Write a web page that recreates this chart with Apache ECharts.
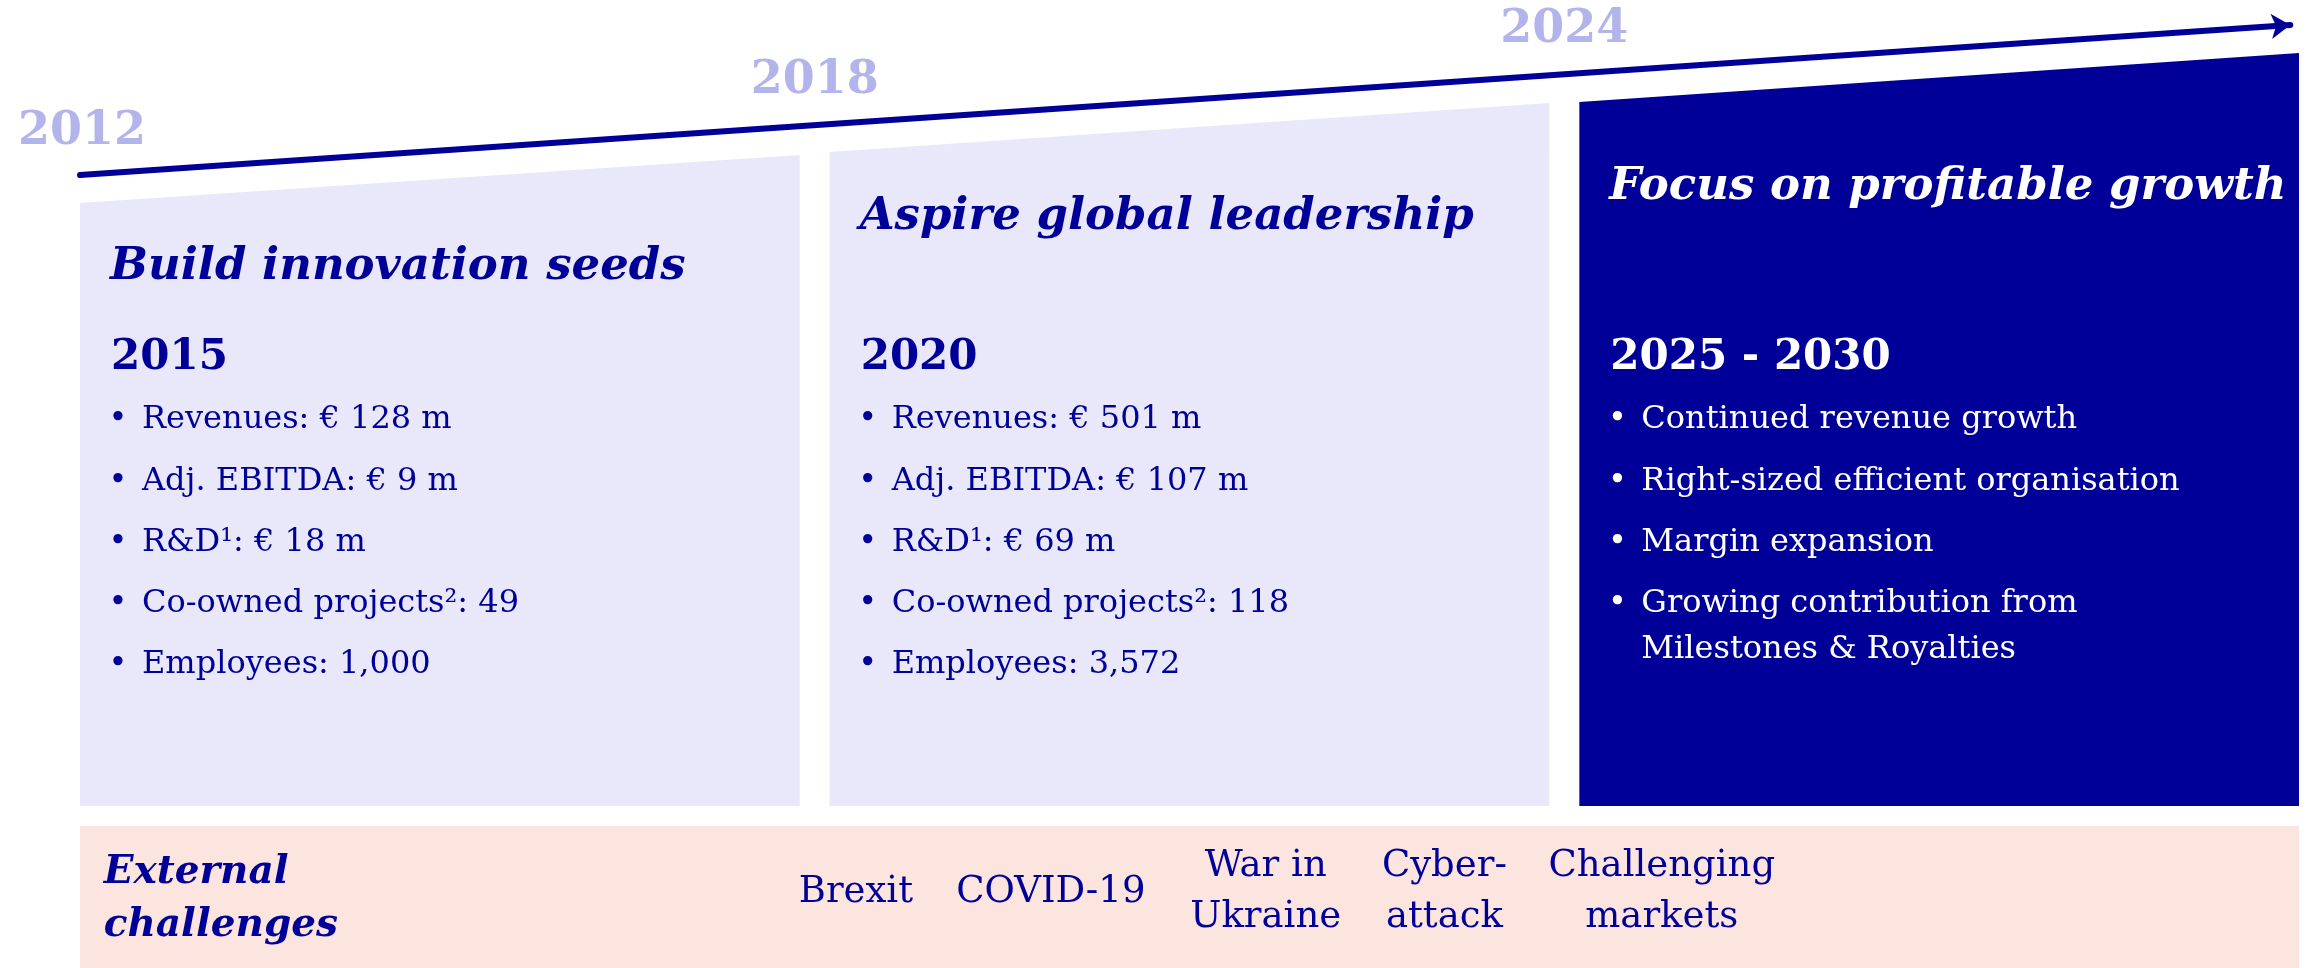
<!DOCTYPE html>
<html>
<head>
<meta charset="utf-8">
<script src="https://cdn.jsdelivr.net/npm/echarts@6/dist/echarts.min.js"></script>
<style>
  html, body { margin: 0; padding: 0; background: #fff; }
  #main { width: 2317px; height: 968px; }
</style>
</head>
<body>
<div id="main"></div>
<script>
// eras on the timeline (years)
const eraStart = [2012, 2018, 2024]
const eraEnd = [2018, 2024, 2030]
// height of each panel's sloped top edge, at its left and right side
const panelTopStart = [603, 654, 704]
const panelTopEnd = [651, 703, 753]

const titles = ['Build innovation seeds', 'Aspire global leadership', 'Focus on profitable growth']
const periods = ['2015', '2020', '2025 - 2030']
const bullets = [
  ['Revenues: € 128 m', 'Adj. EBITDA: € 9 m', 'R&D¹: € 18 m', 'Co-owned projects²: 49', 'Employees: 1,000'],
  ['Revenues: € 501 m', 'Adj. EBITDA: € 107 m', 'R&D¹: € 69 m', 'Co-owned projects²: 118', 'Employees: 3,572'],
  ['Continued revenue growth', 'Right-sized efficient organisation', 'Margin expansion', 'Growing contribution from\nMilestones & Royalties']
]

const milestoneYears = [2012, 2018, 2024]
const growthLine = [[2012.12, 631], [2029.81, 781]]

const challengesTitle = 'External\nchallenges'
const challenges = ['Brexit', 'COVID-19', 'War in\nUkraine', 'Cyber-\nattack', 'Challenging\nmarkets']
const challengeAt = [2018.33, 2019.89, 2021.61, 2023.04, 2024.78]

// layout / style
const NAVY = '#000099'
const LIGHT = '#e8e8fa'
const BAND = '#fce4df'
const YEAR_INK = '#b4b4ec'
const SERIF = '"DejaVu Serif", Georgia, serif'
const INSET = 0.12
const TITLE_Y = [539, 589, 619]
const PERIOD_Y = 448
const BULLET_Y = 386
const BULLET_STEP = 61.2
const WRAP_STEP = 46
const BAND_TOP = -20
const BAND_BOTTOM = -162

function txt(x, y, s, font, fill, align) {
  return {
    type: 'text',
    x, y,
    style: { text: s, font, fill, align: align || 'left', verticalAlign: 'middle' }
  }
}

function renderPanel(params, api) {
  const i = params.dataIndex
  const x0 = api.value(0) + INSET
  const x1 = api.value(1) - INSET
  const pts = [
    api.coord([x0, 0]),
    api.coord([x1, 0]),
    api.coord([x1, panelTopEnd[i]]),
    api.coord([x0, panelTopStart[i]])
  ]
  const dark = i === 2
  const ink = dark ? '#ffffff' : NAVY
  const left = pts[0][0]
  const yOf = v => api.coord([x0, v])[1]
  const children = [
    { type: 'polygon', shape: { points: pts }, style: { fill: dark ? NAVY : LIGHT } },
    txt(left + 30, yOf(TITLE_Y[i]), titles[i], `italic bold 45px ${SERIF}`, ink),
    txt(left + 31, yOf(PERIOD_Y), periods[i], `bold 42px ${SERIF}`, ink)
  ]
  let y = yOf(BULLET_Y)
  bullets[i].forEach(b => {
    children.push(txt(left + 38, y, '•', `32px ${SERIF}`, ink, 'center'))
    b.split('\n').forEach((line, k) => {
      children.push(txt(left + 62, y + k * WRAP_STEP, line, `32px ${SERIF}`, ink))
    })
    y += BULLET_STEP
  })
  return { type: 'group', children }
}

function renderBand(params, api) {
  const a = api.coord([eraStart[0] + INSET, BAND_TOP])
  const b = api.coord([eraEnd[2] - INSET, BAND_BOTTOM])
  return {
    type: 'rect',
    shape: { x: a[0], y: a[1], width: b[0] - a[0], height: b[1] - a[1] },
    style: { fill: BAND }
  }
}

// height of the growth arrow at a given year
function growthAt(t) {
  const [p, q] = growthLine
  return p[1] + (q[1] - p[1]) * (t - p[0]) / (q[0] - p[0])
}

const labelBase = {
  show: true,
  position: 'inside',
  formatter: '{b}',
  fontFamily: SERIF
}

const chart = echarts.init(document.getElementById('main'))

const option = {
  animation: false,
  grid: { left: 65, right: 3, top: 0, bottom: 0 },
  xAxis: { type: 'value', min: 2012, max: 2030, show: false },
  yAxis: { type: 'value', min: BAND_BOTTOM, max: 806, show: false },
  series: [
    {
      type: 'custom',
      name: 'band',
      renderItem: renderBand,
      data: [[eraStart[0], BAND_TOP]],
      silent: true
    },
    {
      type: 'custom',
      name: 'eras',
      renderItem: renderPanel,
      encode: { x: [0, 1] },
      data: eraStart.map((s, i) => [s, eraEnd[i]]),
      clip: false,
      silent: true
    },
    {
      type: 'lines',
      name: 'growth',
      coordinateSystem: 'cartesian2d',
      polyline: false,
      symbol: ['none', 'arrow'],
      symbolSize: 19,
      lineStyle: { color: NAVY, width: 6, opacity: 1, curveness: 0, cap: 'round' },
      data: [{ coords: growthLine }],
      silent: true,
      z: 5
    },
    {
      type: 'scatter',
      name: 'milestones',
      symbolSize: 0,
      itemStyle: { opacity: 1 },
      data: milestoneYears.map((y, i) => ({
        value: [y, growthAt(y) + 44],
        name: String(y),
        label: i === 0 ? { offset: [17, 0] } : {}
      })),
      label: Object.assign({}, labelBase, {
        color: YEAR_INK,
        fontWeight: 'bold',
        fontSize: 46
      }),
      silent: true,
      z: 6
    },
    {
      type: 'scatter',
      name: 'challenges-title',
      symbolSize: 0,
      itemStyle: { opacity: 1 },
      data: [{ value: [2012.31, -93], name: challengesTitle }],
      label: Object.assign({}, labelBase, {
        align: 'left',
        color: NAVY,
        fontWeight: 'bold',
        fontStyle: 'italic',
        fontSize: 39,
        lineHeight: 53
      }),
      silent: true,
      z: 6
    },
    {
      type: 'scatter',
      name: 'challenges',
      symbolSize: 0,
      itemStyle: { opacity: 1 },
      data: challenges.map((c, i) => ({ value: [challengeAt[i], -86], name: c })),
      label: Object.assign({}, labelBase, {
        color: NAVY,
        fontSize: 37,
        lineHeight: 51
      }),
      silent: true,
      z: 6
    }
  ]
}

chart.setOption(option)
</script>
</body>
</html>
